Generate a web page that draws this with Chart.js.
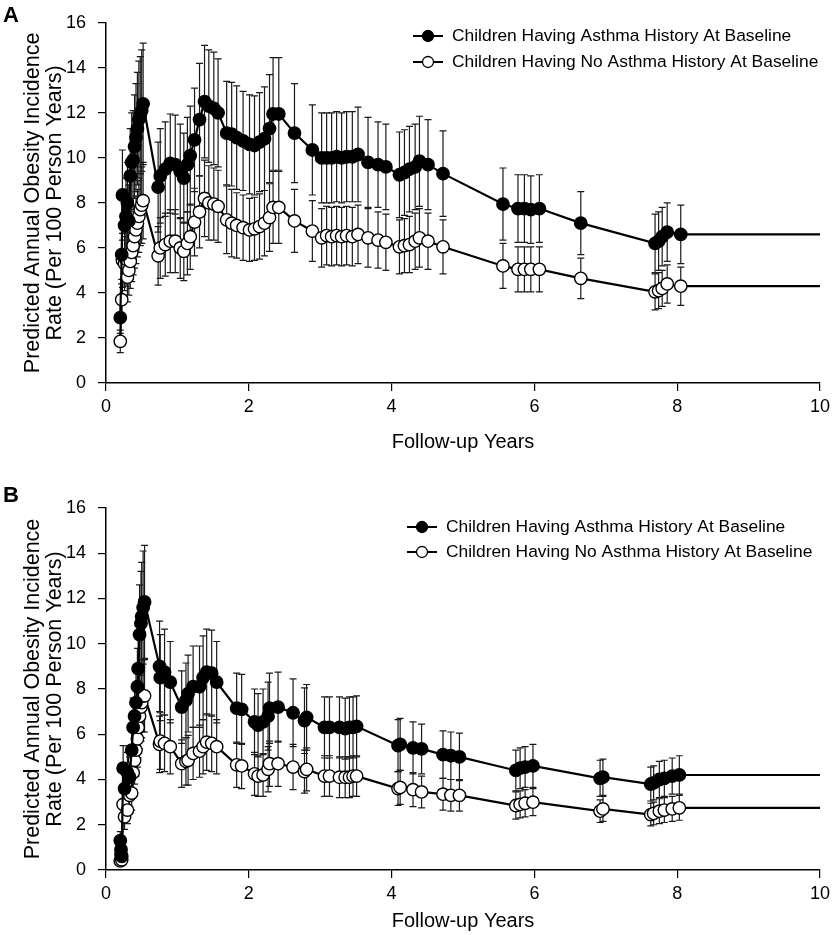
<!DOCTYPE html>
<html>
<head>
<meta charset="utf-8">
<script src="https://cdn.jsdelivr.net/npm/chart.js@4"></script>
<style>
  body { margin: 0; background: #fff; width: 835px; height: 935px; position: relative; overflow: hidden;
         font-family: "Liberation Sans", Arial, sans-serif; }
  .wrap { position: absolute; left: 0; width: 835px; height: 465px; }
  .tag { position: absolute; left: 3px; font-weight: bold; font-size: 22px; color: #000; }
</style>
</head>
<body>
<div class="wrap" style="top:0"><canvas id="chartA"></canvas></div>
<div class="wrap" style="top:470px"><canvas id="chartB"></canvas></div>
<div class="tag" style="top:2px">A</div>
<div class="tag" style="top:482px">B</div>
<script>
// ---- panel A ----
const yearsA = [0.20,0.22,0.23,0.26,0.28,0.30,0.32,0.34,0.36,0.38,0.40,0.42,0.44,0.46,0.48,0.50,0.52,
  0.73,0.76,0.83,0.90,0.97,1.04,1.09,1.14,1.18,1.24,1.31,1.38,1.44,1.51,1.57,1.69,1.76,1.83,1.92,2.01,2.08,2.15,2.22,2.29,2.34,2.42,
  2.64,2.89,3.02,3.09,3.16,3.23,3.30,3.37,3.45,3.53,3.67,3.81,3.92,4.11,4.18,4.25,4.33,4.39,4.51,4.72,5.56,5.77,5.86,5.95,6.07,6.65,7.69,7.74,7.79,7.86,8.05,10];
const asthmaA = [2.9,5.7,8.35,7.0,7.4,8.0,7.2,9.2,9.8,9.9,10.5,10.9,11.3,11.7,11.9,12.1,12.4,
  8.7,9.2,9.5,9.75,9.7,9.4,9.1,9.7,10.1,10.8,11.7,12.5,12.3,12.2,12.0,11.1,11.05,10.9,10.75,10.6,10.55,10.7,10.85,11.3,11.95,11.95,
  11.1,10.35,10.0,10.0,10.0,10.05,10.0,10.05,10.05,10.15,9.8,9.7,9.6,9.25,9.35,9.5,9.6,9.85,9.7,9.3,7.95,7.75,7.75,7.7,7.75,7.1,6.2,6.3,6.5,6.7,6.6,6.6];
const noAsthmaA = [1.85,3.7,5.45,5.3,5.5,4.7,5.0,5.4,5.8,6.1,6.5,6.8,7.1,7.4,7.7,7.9,8.1,
  5.65,6.0,6.15,6.3,6.3,6.0,5.85,6.2,6.5,7.15,7.6,8.2,8.0,7.95,7.85,7.25,7.1,7.0,6.9,6.8,6.85,6.95,7.1,7.35,7.8,7.8,
  7.2,6.75,6.45,6.55,6.5,6.55,6.5,6.55,6.5,6.6,6.45,6.35,6.25,6.05,6.1,6.15,6.3,6.45,6.3,6.05,5.2,5.05,5.05,5.05,5.05,4.65,4.05,4.1,4.2,4.4,4.3,4.3];
const asthmaErrA = [0.7,1.3,2.0,1.6,1.7,1.8,1.6,2.1,2.2,2.2,2.3,2.4,2.5,2.6,2.6,2.7,2.7,
  2.0,2.1,2.1,2.2,2.2,2.1,2.0,2.1,2.2,2.3,2.5,2.5,2.5,2.5,2.4,2.3,2.3,2.3,2.2,2.2,2.2,2.2,2.3,2.4,2.5,2.5,
  2.2,2.0,2.0,2.0,2.0,2.0,2.0,2.0,2.0,2.1,2.0,1.9,1.9,1.9,1.9,1.9,1.9,2.0,2.0,1.9,1.6,1.5,1.5,1.5,1.5,1.4,1.3,1.3,1.3,1.3,1.3,0];
const noAsthmaErrA = [0.5,0.9,1.2,1.2,1.2,1.1,1.1,1.2,1.3,1.3,1.4,1.5,1.5,1.6,1.6,1.7,1.7,
  1.3,1.35,1.4,1.4,1.4,1.35,1.3,1.4,1.45,1.5,1.6,1.7,1.65,1.6,1.6,1.5,1.5,1.45,1.45,1.4,1.4,1.45,1.45,1.5,1.6,1.6,
  1.4,1.35,1.3,1.3,1.3,1.3,1.3,1.3,1.3,1.3,1.3,1.25,1.25,1.2,1.2,1.25,1.25,1.3,1.25,1.2,1.0,1.0,1.0,1.0,1.0,0.9,0.8,0.8,0.8,0.85,0.85,0];

// ---- panel B ----
const yearsB = [0.20,0.21,0.22,0.24,0.26,0.30,0.33,0.36,0.38,0.40,0.42,0.44,0.45,0.47,0.49,0.50,0.52,0.54,
  0.75,0.76,0.82,0.90,1.06,1.12,1.15,1.22,1.31,1.36,1.41,1.48,1.55,1.83,1.90,2.08,2.13,2.20,2.27,2.29,2.41,2.62,2.78,2.81,
  3.06,3.13,3.27,3.35,3.41,3.46,3.51,4.09,4.12,4.30,4.42,4.72,4.83,4.95,5.74,5.80,5.87,5.98,6.92,6.96,7.63,7.67,7.75,7.82,7.93,8.03,10];
const asthmaB = [1.3,0.9,0.6,4.5,3.6,4.3,4.1,5.3,6.3,6.8,7.4,8.1,8.9,10.4,10.9,11.2,11.6,11.85,
  9.0,8.5,8.75,8.3,7.2,7.5,7.8,8.1,8.1,8.5,8.75,8.7,8.3,7.15,7.1,6.55,6.4,6.55,6.8,7.15,7.2,6.95,6.6,6.75,
  6.3,6.3,6.3,6.25,6.3,6.3,6.35,5.5,5.55,5.4,5.35,5.1,5.05,5.0,4.4,4.5,4.55,4.6,4.05,4.1,3.8,3.85,4.0,4.05,4.15,4.2,4.2];
const noAsthmaB = [0.4,0.7,0.45,2.9,2.35,2.65,3.3,3.4,4.3,4.85,5.3,5.8,6.3,6.8,7.2,7.4,7.7,7.7,
  5.55,5.7,5.6,5.45,4.7,4.8,4.85,5.15,5.25,5.45,5.65,5.6,5.45,4.65,4.6,4.25,4.15,4.2,4.45,4.7,4.7,4.55,4.35,4.45,
  4.15,4.15,4.1,4.1,4.1,4.15,4.15,3.6,3.65,3.55,3.45,3.35,3.3,3.3,2.85,2.9,2.95,3.0,2.6,2.7,2.45,2.5,2.6,2.65,2.7,2.75,2.75];
const asthmaErrB = [0.4,0.3,0.2,1.0,0.8,0.9,0.9,1.1,1.3,1.4,1.6,1.7,1.9,2.2,2.3,2.4,2.5,2.5,
  2.0,1.9,1.9,1.8,1.6,1.65,1.7,1.8,1.8,1.85,1.9,1.9,1.8,1.55,1.55,1.45,1.4,1.45,1.5,1.55,1.55,1.5,1.45,1.45,
  1.35,1.35,1.35,1.35,1.35,1.35,1.35,1.15,1.15,1.15,1.1,1.05,1.05,1.05,0.9,0.9,0.9,0.95,0.8,0.8,0.75,0.75,0.8,0.8,0.8,0.85,0];
const noAsthmaErrB = [0.15,0.2,0.15,0.7,0.55,0.6,0.75,0.75,0.95,1.05,1.15,1.25,1.35,1.45,1.5,1.55,1.6,1.6,
  1.25,1.25,1.25,1.2,1.05,1.05,1.1,1.15,1.15,1.2,1.25,1.25,1.2,1.0,1.0,0.95,0.9,0.95,1.0,1.0,1.0,1.0,0.95,0.95,
  0.9,0.9,0.9,0.9,0.9,0.9,0.9,0.75,0.75,0.75,0.7,0.7,0.7,0.7,0.6,0.6,0.6,0.6,0.5,0.55,0.5,0.5,0.55,0.55,0.55,0.55,0];

const seriesNames = ['Children Having Asthma History At Baseline', 'Children Having No Asthma History At Baseline'];
const xTicks = [0, 2, 4, 6, 8, 10];
const yTicks = [0, 2, 4, 6, 8, 10, 12, 14, 16];
const FONT = '"Liberation Sans", Arial, sans-serif';

// vertical error bars with caps, drawn behind the lines and markers
const errorBars = {
  id: 'errorBars',
  beforeDatasetsDraw(chart) {
    const { ctx, scales: { x, y } } = chart;
    ctx.save();
    ctx.strokeStyle = '#1a1a1a';
    ctx.lineWidth = 1.2;
    chart.data.datasets.forEach(ds => {
      ds.data.forEach((p, i) => {
        const e = ds.errors[i];
        if (!e) return;
        const px = x.getPixelForValue(p.x);
        const top = y.getPixelForValue(p.y + e);
        const bot = y.getPixelForValue(p.y - e);
        ctx.beginPath();
        ctx.moveTo(px, top); ctx.lineTo(px, bot);
        ctx.moveTo(px - 3.5, top); ctx.lineTo(px + 3.5, top);
        ctx.moveTo(px - 3.5, bot); ctx.lineTo(px + 3.5, bot);
        ctx.stroke();
      });
    });
    ctx.restore();
  }
};

// legend with line + marker symbols, placed inside the plot
const lineLegend = {
  id: 'lineLegend',
  afterDraw(chart, args, opts) {
    const { ctx } = chart;
    ctx.save();
    ctx.font = '17.4px ' + FONT;
    ctx.textBaseline = 'middle';
    chart.data.datasets.forEach((ds, i) => {
      const y = opts.y + i * opts.gap;
      ctx.strokeStyle = '#000';
      ctx.lineWidth = 2;
      ctx.beginPath();
      ctx.moveTo(opts.x, y); ctx.lineTo(opts.x + 30, y);
      ctx.stroke();
      ctx.beginPath();
      ctx.arc(opts.x + 15, y, 5.5, 0, Math.PI * 2);
      ctx.fillStyle = ds.pointBackgroundColor;
      ctx.fill();
      ctx.lineWidth = 1.3;
      ctx.stroke();
      ctx.fillStyle = '#000';
      ctx.fillText(ds.label, opts.x + 39, y);
    });
    ctx.restore();
  }
};

function makeChart(id, years, asthma, noAsthma, errAsthma, errNoAsthma, cfg) {
  const series = (vals, errs, fill, label) => ({
    label,
    data: years.map((x, i) => ({ x, y: vals[i] })),
    errors: errs,
    showLine: true,
    borderColor: '#000',
    borderWidth: 2.2,
    pointBackgroundColor: fill,
    pointBorderColor: '#000',
    pointBorderWidth: 1.4,
    pointRadius: c => (c.raw && c.raw.x >= 10 ? 0 : 6.2),
    pointHoverRadius: 6.2
  });
  return new Chart(document.getElementById(id), {
    type: 'scatter',
    data: {
      datasets: [
        series(asthma, errAsthma, '#000', seriesNames[0]),
        series(noAsthma, errNoAsthma, '#fff', seriesNames[1])
      ]
    },
    options: {
      responsive: true,
      maintainAspectRatio: false,
      animation: false,
      devicePixelRatio: 1,
      layout: { padding: { top: cfg.top, right: 14, left: 0, bottom: 0 } },
      plugins: {
        legend: { display: false },
        tooltip: { enabled: false },
        lineLegend: cfg.legend
      },
      scales: {
        x: {
          type: 'linear', min: 0, max: 10,
          afterBuildTicks: s => { s.ticks = xTicks.map(v => ({ value: v })); },
          afterFit: s => { s.height = cfg.xHeight; },
          grid: { drawOnChartArea: false, drawTicks: true, tickLength: 8, color: '#000', lineWidth: 1.2 },
          border: { display: true, color: '#000', width: 1.5 },
          ticks: { color: '#000', font: { family: FONT, size: 18 }, padding: 5 },
          title: { display: true, text: 'Follow-up Years', color: '#000',
                   font: { family: FONT, size: 20, lineHeight: 1.2 }, padding: { top: 0, bottom: cfg.titlePad } }
        },
        y: {
          type: 'linear', min: 0, max: 16,
          afterBuildTicks: s => { s.ticks = yTicks.map(v => ({ value: v })); },
          afterFit: s => { s.width = 106; },
          grid: { drawOnChartArea: false, drawTicks: true, tickLength: 8, color: '#000', lineWidth: 1.2 },
          border: { display: true, color: '#000', width: 1.5 },
          ticks: { color: '#000', font: { family: FONT, size: 18 }, padding: 12 },
          title: { display: true, text: ['Predicted Annual Obesity Incidence', 'Rate (Per 100 Person Years)'], color: '#000',
                   font: { family: FONT, size: 21.5, lineHeight: 1.03 }, padding: { top: 22, bottom: 0 } }
        }
      }
    },
    plugins: [errorBars, lineLegend]
  });
}

makeChart('chartA', yearsA, asthmaA, noAsthmaA, asthmaErrA, noAsthmaErrA,
  { top: 20, xHeight: 82, titlePad: 11, legend: { x: 413, y: 36, gap: 26 } });
makeChart('chartB', yearsB, asthmaB, noAsthmaB, asthmaErrB, noAsthmaErrB,
  { top: 38, xHeight: 65, titlePad: 2, legend: { x: 407, y: 57, gap: 25 } });
</script>
</body>
</html>
